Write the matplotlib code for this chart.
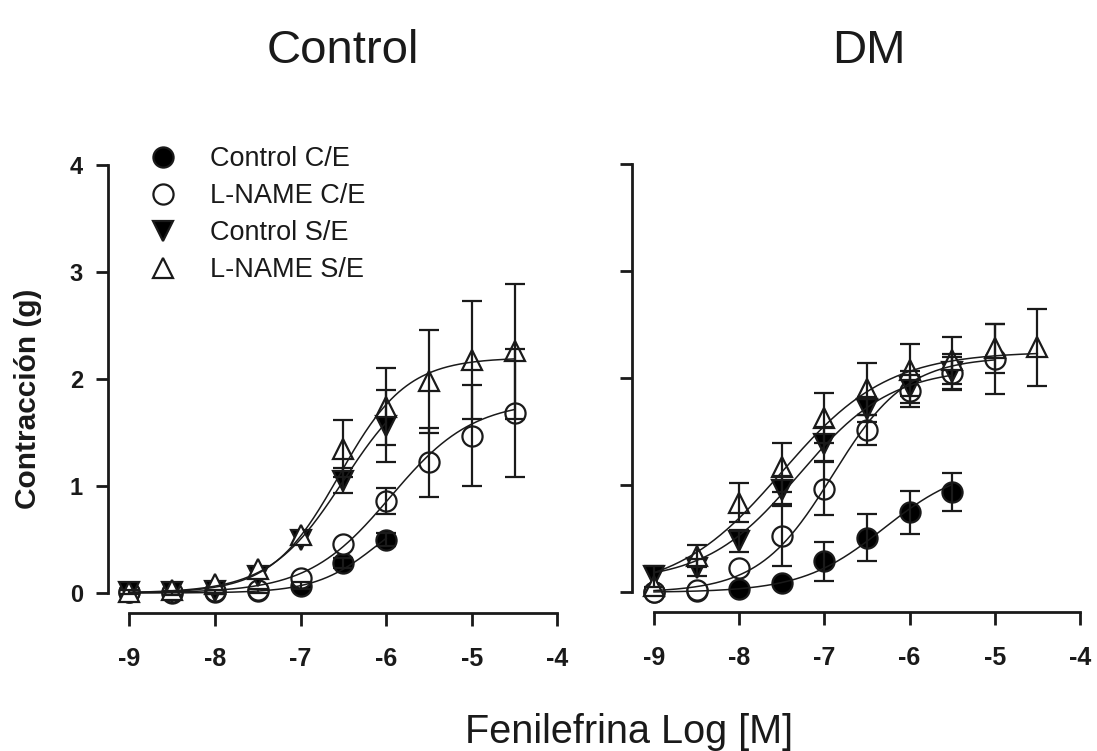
import numpy as np
import matplotlib
matplotlib.use("Agg")
import matplotlib.pyplot as plt
from matplotlib.lines import Line2D

plt.rcParams['font.family'] = ['Liberation Sans', 'DejaVu Sans']
plt.rcParams['axes.unicode_minus'] = False

# ---------------- data ----------------
log_conc = [-9, -8.5, -8, -7.5, -7, -6.5, -6, -5.5, -5, -4.5]
x_ticks = [-9, -8, -7, -6, -5, -4]
x_ticklabels = ['-9', '-8', '-7', '-6', '-5', '-4']
y_ticks = [0, 1, 2, 3, 4]
y_ticklabels = ['0', '1', '2', '3', '4']
series_names = ['Control C/E', 'L-NAME C/E', 'Control S/E', 'L-NAME S/E']
panel_titles = ['Control', 'DM']
nan = np.nan

# Panel "Control"
ctl_ctrl_ce = [0.01, 0.00, 0.01, 0.02, 0.07, 0.28, 0.50]
ctl_ctrl_ce_se = [0.02, 0.02, 0.02, 0.02, 0.03, 0.05, 0.06]
ctl_lname_ce = [0.01, 0.01, 0.02, 0.03, 0.14, 0.46, 0.86, 1.22, 1.47, 1.68]
ctl_lname_ce_se = [nan, nan, nan, nan, nan, nan, 0.125, 0.32, 0.47, 0.60]
ctl_ctrl_se = [0.01, 0.01, 0.02, 0.16, 0.50, 1.05, 1.56]
ctl_ctrl_se_se = [nan, nan, nan, nan, nan, 0.12, 0.34]
ctl_lname_se = [0.01, 0.03, 0.08, 0.22, 0.54, 1.35, 1.74, 1.98, 2.18, 2.26]
ctl_lname_se_se = [nan, nan, nan, nan, nan, 0.27, 0.36, 0.48, 0.55, 0.63]

# Panel "DM"
dm_ctrl_ce = [0.00, 0.01, 0.03, 0.09, 0.29, 0.51, 0.75, 0.94]
dm_ctrl_ce_se = [nan, nan, nan, nan, 0.18, 0.22, 0.20, 0.18]
dm_lname_ce = [0.00, 0.02, 0.23, 0.53, 0.97, 1.52, 1.88, 2.05, 2.18]
dm_lname_ce_se = [nan, nan, nan, 0.28, 0.245, 0.14, 0.15, 0.15, 0.33]
dm_ctrl_se = [0.15, 0.23, 0.48, 0.96, 1.39, 1.71, 1.92, 2.06]
dm_ctrl_se_se = [0.10, 0.08, 0.10, 0.13, 0.16, 0.12, 0.15, 0.17]
dm_lname_se = [0.06, 0.34, 0.84, 1.17, 1.63, 1.90, 2.08, 2.17, 2.28, 2.29]
dm_lname_se_se = [nan, 0.10, 0.18, 0.23, 0.23, 0.24, 0.24, 0.22, 0.23, 0.36]

# fitted sigmoid (Hill) parameters: bottom, top, logEC50, slope, x-end
ctl_fits = [(0.0, 0.90, -6.10, 1.2, -6.0),
            (0.0, 1.80, -5.95, 0.9, -4.5),
            (0.0, 2.10, -6.50, 1.0, -6.0),
            (0.0, 2.20, -6.55, 1.1, -4.5)]
dm_fits = [(0.0, 1.20, -6.30, 0.9, -5.5),
           (0.0, 2.20, -6.90, 1.0, -5.0),
           (0.10, 2.10, -7.30, 0.8, -5.5),
           (0.0, 2.25, -7.50, 0.7, -4.5)]

panels = [
    [(ctl_ctrl_ce, ctl_ctrl_ce_se), (ctl_lname_ce, ctl_lname_ce_se),
     (ctl_ctrl_se, ctl_ctrl_se_se), (ctl_lname_se, ctl_lname_se_se)],
    [(dm_ctrl_ce, dm_ctrl_ce_se), (dm_lname_ce, dm_lname_ce_se),
     (dm_ctrl_se, dm_ctrl_se_se), (dm_lname_se, dm_lname_se_se)],
]
fits = [ctl_fits, dm_fits]

markers = ['o', 'o', 'v', '^']
faces = ['black', 'white', 'black', 'white']
MS = 14.5
MEW = 1.6
INK = '#1a1a1a'

# ---------------- figure ----------------
W, H = 1097, 751
fig = plt.figure(figsize=(W / 100, H / 100), dpi=100)


def rect(left, top, w, h):
    return [left / W, 1 - (top + h) / H, w / W, h / H]


xlim = (-9.3, -3.85)
ylim = (-0.2, 4.2)
ax_specs = [rect(103.8, 143.6, 85.6 * 5.45, 470.8),
            rect(628.4, 143.0, 85.2 * 5.45, 470.8)]
spine_x = [-9.25, -9.26]

axes = []
for p in range(2):
    ax = fig.add_axes(ax_specs[p])
    axes.append(ax)
    ax.set_xlim(*xlim)
    ax.set_ylim(*ylim)
    for s in ['top', 'right']:
        ax.spines[s].set_visible(False)
    ax.spines['left'].set_position(('data', spine_x[p]))
    ax.spines['bottom'].set_position(('data', -0.187))
    ax.spines['left'].set_bounds(0, 4)
    ax.spines['bottom'].set_bounds(-9, -4)
    for s in ['left', 'bottom']:
        ax.spines[s].set_linewidth(2.0)
        ax.spines[s].set_color(INK)
    ax.set_xticks(x_ticks)
    ax.set_xticklabels(x_ticklabels)
    ax.set_yticks(y_ticks)
    ax.set_yticklabels(y_ticklabels if p == 0 else [])
    ax.tick_params(axis='x', direction='out', length=9.5, width=2.0, pad=15,
                   labelsize=18, colors=INK)
    ax.tick_params(axis='y', direction='out', length=9.0, width=2.0, pad=9,
                   labelsize=17, colors=INK)
    for lab in ax.get_xticklabels() + ax.get_yticklabels():
        lab.set_fontweight('bold')

    for i, (vals, errs) in enumerate(panels[p]):
        xs = log_conc[:len(vals)]
        ax.errorbar(xs, vals, yerr=errs, fmt='none', ecolor=INK,
                    elinewidth=1.6, capsize=7.5, capthick=1.6, zorder=4,
                    clip_on=False)
        ax.plot(xs, vals, linestyle='none', marker=markers[i], markersize=MS,
                markerfacecolor=faces[i], markeredgecolor=INK,
                markeredgewidth=MEW, zorder=3 + 0.1 * i, clip_on=False)
        bottom, top, ec50, slope, xend = fits[p][i]
        xc = np.linspace(-9, xend, 300)
        yc = bottom + (top - bottom) / (1 + 10 ** ((ec50 - xc) * slope))
        ax.plot(xc, yc, color=INK, linewidth=1.1, zorder=5, clip_on=False)


def ftext(x, y, s, **kw):
    fig.text(x / W, 1 - y / H, s, **kw)


ftext(343, 63, panel_titles[0], fontsize=34, ha='center', va='baseline', color=INK)
ftext(868.5, 63, panel_titles[1], fontsize=34, ha='center', va='baseline', color=INK)
ftext(629, 743, 'Fenilefrina Log [M]', fontsize=28.5, ha='center', va='baseline',
      color=INK)
ftext(36.5, 399, 'Contracción (g)', fontsize=21.5, fontweight='bold', rotation=90,
      rotation_mode='anchor', ha='center', va='baseline', color=INK)

handles = [Line2D([], [], linestyle='none', marker=markers[i], markersize=MS,
                  markerfacecolor=faces[i], markeredgecolor=INK,
                  markeredgewidth=MEW) for i in range(4)]
fig.legend(handles, series_names, loc='upper left',
           bbox_to_anchor=(149.8 / W, 1 - 146 / H), frameon=False,
           fontsize=19.5, handlelength=1.0, handletextpad=1.23,
           labelspacing=0.41, borderpad=0, borderaxespad=0, numpoints=1,
           labelcolor=INK)

fig.savefig('out.png', dpi=100)
